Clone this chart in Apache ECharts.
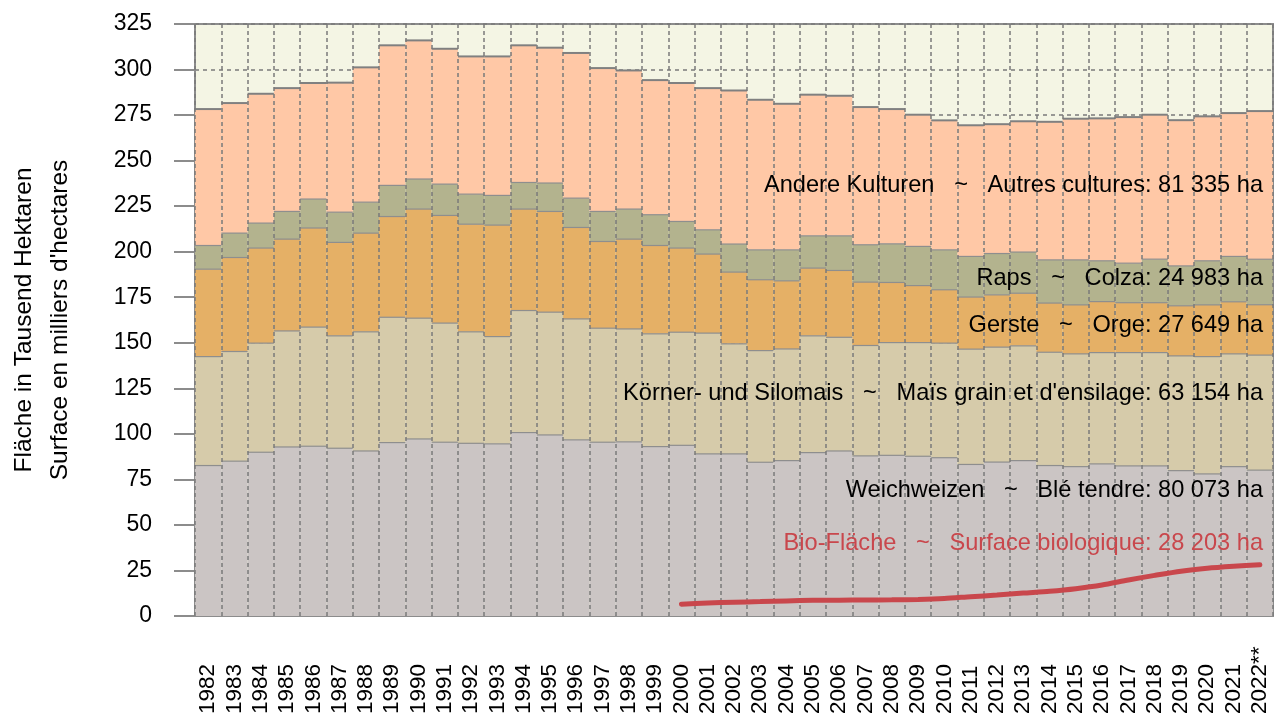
<!DOCTYPE html>
<html>
<head>
<meta charset="utf-8">
<script src="https://cdn.jsdelivr.net/npm/echarts@6/dist/echarts.min.js"></script>
<style>
  html, body { margin: 0; padding: 0; background: #fff; }
  #main { width: 1274px; height: 716px; }
</style>
</head>
<body>
<div id="main"></div>
<script>
// Jahre / années
var years = ['1982', '1983', '1984', '1985', '1986', '1987', '1988', '1989', '1990', '1991',
    '1992', '1993', '1994', '1995', '1996', '1997', '1998', '1999', '2000', '2001',
    '2002', '2003', '2004', '2005', '2006', '2007', '2008', '2009', '2010', '2011',
    '2012', '2013', '2014', '2015', '2016', '2017', '2018', '2019', '2020', '2021', '2022**'];

// Fläche in 1000 ha
var weichweizen = [82.6, 85.0, 89.9, 92.8, 93.2, 92.1, 90.6, 95.2, 97.2, 95.4, 94.8, 94.5,
    100.7, 99.4, 96.7, 95.4, 95.6, 93.0, 93.7, 89.0, 89.0, 84.4,
    85.3, 89.7, 90.6, 87.9, 88.2, 87.7, 86.9, 83.2, 84.5, 85.3,
    82.6, 82.0, 83.5, 82.4, 82.4, 79.8, 78.0, 82.0, 80.073];
var mais = [59.8, 60.2, 59.9, 63.7, 65.4, 61.7, 65.4, 68.8, 66.3, 65.4, 61.2, 58.9,
    67.0, 67.4, 66.4, 62.6, 62.0, 61.9, 62.1, 66.3, 60.4, 61.3,
    61.3, 64.1, 62.4, 60.6, 61.9, 62.4, 62.9, 63.3, 63.1, 63.0,
    62.2, 61.9, 61.1, 62.2, 62.2, 63.0, 64.4, 61.9, 63.154];
var gerste = [48.0, 51.6, 52.2, 50.4, 54.4, 51.3, 54.2, 55.3, 59.9, 59.1, 59.1, 61.2,
    55.7, 55.3, 50.2, 47.6, 49.3, 48.5, 46.2, 43.4, 39.4, 38.9,
    37.4, 37.2, 36.7, 34.8, 33.0, 31.3, 29.3, 28.6, 28.7, 28.9,
    27.0, 26.9, 28.0, 27.4, 27.4, 27.5, 28.4, 28.6, 27.649];
var raps = [13.0, 13.4, 13.7, 15.2, 15.9, 16.6, 17.0, 17.1, 16.5, 17.2, 16.5, 16.3,
    14.6, 15.6, 16.1, 16.5, 16.5, 16.9, 14.6, 13.3, 15.4, 16.4,
    17.0, 17.7, 19.0, 20.5, 21.2, 21.5, 21.9, 22.3, 22.7, 22.6,
    23.7, 24.7, 22.4, 21.7, 23.9, 21.9, 24.2, 24.9, 24.983];
var andere = [74.9, 71.4, 71.0, 67.7, 63.7, 71.1, 74.0, 76.9, 76.1, 74.3, 75.6, 76.3,
    75.3, 74.3, 79.7, 78.7, 76.1, 73.9, 76.0, 77.8, 84.3, 82.4,
    80.2, 77.5, 76.9, 75.6, 74.0, 72.3, 71.1, 72.0, 71.0, 71.8,
    75.8, 77.5, 78.2, 80.2, 79.3, 80.0, 79.3, 78.7, 81.335];
var bio = [null, null, null, null, null, null, null, null, null, null, null, null,
    null, null, null, null, null, null,
    6.5, 7.2, 7.6, 7.9, 8.3, 8.6, 8.7, 8.8, 8.9, 9.1, 9.6, 10.6,
    11.5, 12.6, 13.6, 15.0, 17.0, 19.8, 22.3, 24.6, 26.2, 27.3, 28.2];

var yTicks = { min: 0, max: 325, step: 25 };

var labels = [
    { text: 'Andere Kulturen   ~   Autres cultures: 81 335 ha', y: 185, color: '#000' },
    { text: 'Raps   ~   Colza: 24 983 ha', y: 278, color: '#000' },
    { text: 'Gerste   ~   Orge: 27 649 ha', y: 325, color: '#000' },
    { text: 'Körner- und Silomais   ~   Maïs grain et d\'ensilage: 63 154 ha', y: 393, color: '#000' },
    { text: 'Weichweizen   ~   Blé tendre: 80 073 ha', y: 490, color: '#000' },
    { text: 'Bio-Fläche   ~   Surface biologique: 28 203 ha', y: 543, color: '#c9474c' }
];

var font = 'Liberation Sans, Arial, Helvetica, sans-serif';
var layers = [weichweizen, mais, gerste, raps, andere];
var colors = ['#cbc5c4', '#d6cbaa', '#e5b066', '#b3b38e', '#ffc8a6'];

// Obergrenzen pro Schicht, für die Randlinien
var tops = years.map(function (y, i) {
    var row = [i], s = 0;
    layers.forEach(function (arr) { s += arr[i]; row.push(s); });
    return row;
});

var myChart = echarts.init(document.getElementById('main'));

var series = layers.map(function (arr, k) {
    return {
        type: 'bar',
        stack: 'total',
        data: arr,
        barCategoryGap: '0%',
        itemStyle: { color: colors[k] },
        silent: true,
        z: 2
    };
});

series.push({
    type: 'custom',
    data: tops,
    encode: { x: 0, y: [1, 2, 3, 4, 5] },
    silent: true,
    z: 3,
    renderItem: function (params, api) {
        var w = api.size([1, 0])[0];
        var children = [];
        for (var k = 1; k <= 5; k++) {
            var p = api.coord([api.value(0), api.value(k)]);
            children.push({
                type: 'line',
                shape: { x1: p[0] - w / 2, y1: p[1], x2: p[0] + w / 2, y2: p[1] },
                style: { stroke: k === 5 ? '#808080' : '#8e8e8e', lineWidth: k === 5 ? 2 : 1.2 }
            });
        }
        return { type: 'group', children: children };
    }
});

series.push({
    type: 'line',
    data: bio,
    symbol: 'none',
    smooth: 0.25,
    connectNulls: false,
    lineStyle: { color: '#c9474c', width: 5, cap: 'round' },
    silent: true,
    z: 20
});

var option = {
    animation: false,
    textStyle: { fontFamily: font },
    grid: {
        left: 195, right: 1, top: 24, bottom: 100,
        outerBoundsMode: 'none',
        containLabel: false,
        show: true,
        backgroundColor: '#f4f5e4',
        borderColor: '#8c8c8c',
        borderWidth: 2
    },
    xAxis: [
        {
            type: 'category',
            data: years,
            axisLine: { lineStyle: { color: '#8c8c8c', width: 2 } },
            axisTick: { interval: 0, length: 20, lineStyle: { color: '#8c8c8c', width: 2 } },
            axisLabel: {
                interval: 0, rotate: 90, align: 'left', verticalAlign: 'middle',
                margin: 98, fontSize: 22.5, color: '#000', fontFamily: font
            },
            splitLine: { show: false }
        },
        {
            type: 'category',
            data: years,
            position: 'bottom',
            z: 10,
            axisLine: { show: false },
            axisTick: { show: false },
            axisLabel: { show: false },
            splitLine: {
                show: true, interval: 0,
                lineStyle: { color: '#7a7a7a', width: 1.5, type: [4, 3] }
            }
        }
    ],
    yAxis: {
        type: 'value',
        min: yTicks.min,
        max: yTicks.max,
        interval: yTicks.step,
        name: 'Fläche in Tausend Hektaren\nSurface en milliers d\'hectares',
        nameLocation: 'middle',
        nameRotate: 90,
        nameGap: 116.5,
        nameTextStyle: { fontSize: 24.5, lineHeight: 36, color: '#000', fontFamily: font },
        axisLine: { show: true, lineStyle: { color: '#8c8c8c', width: 2 } },
        axisTick: { show: true, length: 21, lineStyle: { color: '#8c8c8c', width: 2 } },
        axisLabel: { fontSize: 23, margin: 43, color: '#000', fontFamily: font },
        splitLine: { lineStyle: { color: '#7a7a7a', width: 1.5, type: [4, 4] } }
    },
    graphic: labels.map(function (l) {
        return {
            type: 'text',
            x: 1263,
            y: l.y,
            z: 30,
            silent: true,
            style: {
                text: l.text, fill: l.color, font: '23.6px ' + font,
                textAlign: 'right', textVerticalAlign: 'middle'
            }
        };
    }),
    series: series
};

myChart.setOption(option);
</script>
</body>
</html>
